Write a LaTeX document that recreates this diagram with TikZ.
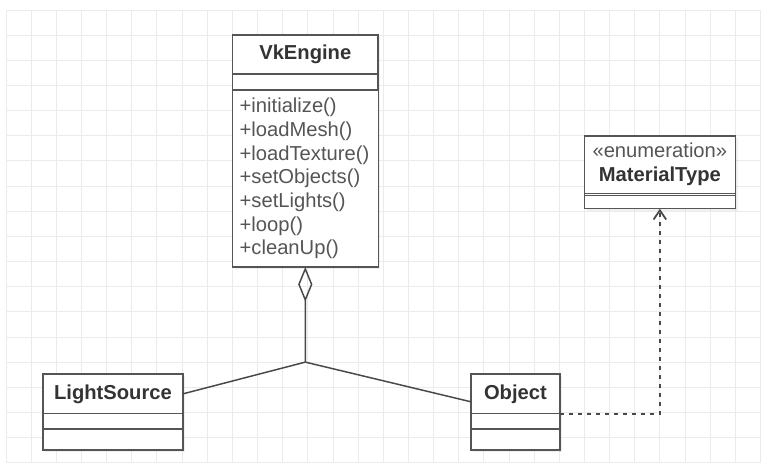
\documentclass[tikz,border=0pt]{standalone}
\usepackage{fontspec}
\setmainfont{Liberation Sans}
\usepackage{xcolor}
\usepackage{tikz}
\usetikzlibrary{arrows.meta}
\usetikzlibrary{shadows}
\usetikzlibrary{positioning}
\definecolor{gridgray}{HTML}{EBEBEB}
\definecolor{boxgray}{HTML}{555555}
\definecolor{namegray}{HTML}{333333}
\definecolor{opgray}{HTML}{555555}
\tikzset{umlpart/.style={draw=boxgray, line width=1pt, fill=white, outer sep=0pt, inner xsep=5pt, inner ysep=0pt, minimum width=#1, drop shadow={opacity=0.12, shadow xshift=1.5pt, shadow yshift=-1.5pt}}}
\tikzset{umlname/.style={font=\fontsize{13.7}{16.3}\selectfont\bfseries, text=namegray, align=center}}
\tikzset{umlops/.style={font=\fontsize{13.7}{16.1}\selectfont, text=opgray, align=left}}
\tikzset{umlline/.style={draw=boxgray!85!black, line width=1pt}}
\tikzset{aggregation/.style={umlline, -{Diamond[open, length=8.3mm, width=3.4mm]}}}
\tikzset{dependency/.style={umlline, line width=1.2pt, dash pattern=on 2.7pt off 3.4pt, -{Straight Barb[length=2.2mm, width=3mm]}}}

\begin{document}
\begin{tikzpicture}[x=0.6cm, y=0.6cm]
{
\useasboundingbox (-0.24,-0.37) rectangle (30.30,18.40);
\draw[gridgray, line width=0.6pt, step=1] (0,0) grid (30,18);

\node[umlpart=3.48cm, minimum height=0.93cm, umlname, anchor=north west] (vkname) at (9,17) {VkEngine};
\node[umlpart=3.48cm, minimum height=0.38cm, below=0pt of vkname] (vkattr) {};
\node[umlpart=3.48cm, minimum height=4.22cm, umlops, text width=3.13cm, below=0pt of vkattr] (vkops)
  {+initialize()\\+loadMesh()\\+loadTexture()\\+setObjects()\\+setLights()\\+loop()\\+cleanUp()};

\node[umlpart=3.6cm, minimum height=1.38cm, umlname, anchor=north west] (matname) at (23,13)
  {{\mdseries\color{opgray}«enumeration»}\\MaterialType};
\node[umlpart=3.6cm, minimum height=0.05cm, below=0pt of matname] (matlit) {};
\node[umlpart=3.6cm, minimum height=0.31cm, below=0pt of matlit] (matattr) {};

\node[umlpart=3.34cm, minimum height=0.95cm, umlname, anchor=north west] (lightname) at (1.47,3.53) {LightSource};
\node[umlpart=3.34cm, minimum height=0.36cm, below=0pt of lightname] (lightattr) {};
\node[umlpart=3.34cm, minimum height=0.50cm, below=0pt of lightattr] (lightops) {};

\node[umlpart=2.12cm, minimum height=0.95cm, umlname, anchor=north west] (objname) at (18.49,3.53) {Object};
\node[umlpart=2.12cm, minimum height=0.36cm, below=0pt of objname] (objattr) {};
\node[umlpart=2.12cm, minimum height=0.50cm, below=0pt of objattr] (objops) {};

\coordinate (hub) at (11.9,4);
\draw[aggregation] (hub) -- (vkops.south);
\draw[umlline] (hub) -- (lightname.east);
\draw[umlline] (hub) -- ([yshift=-0.19cm]objname.west);
\draw[dependency] (objname.south east) -| (matattr.south);
}
\end{tikzpicture}
\end{document}
